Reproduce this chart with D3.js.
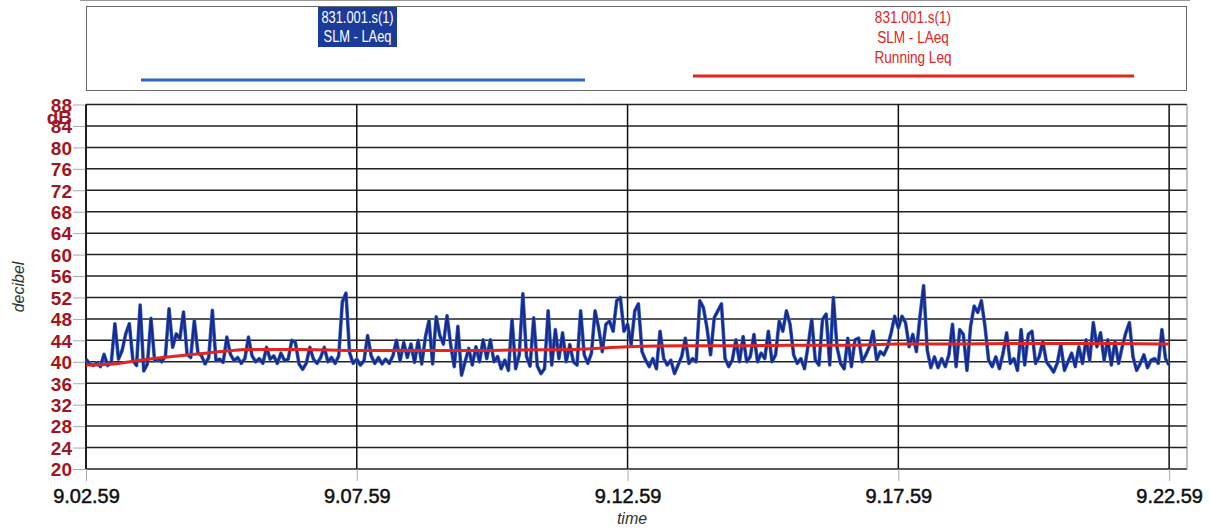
<!DOCTYPE html>
<html>
<head>
<meta charset="utf-8">
<title>SLM - LAeq</title>
<script src="https://cdnjs.cloudflare.com/ajax/libs/d3/7.8.5/d3.min.js"></script>
<style>
  body { margin: 0; background: #fff; }
  svg { display: block; }
  .narrow { font-family: "Liberation Sans Narrow", "Arial Narrow", "Liberation Sans", Arial, sans-serif; }
</style>
</head>
<body>
<div id="chart"></div>
<script>
// logger start 9.02.59, one LAeq sample every 4 s
const startLabel = "9.02.59";
const stepSec = 4;

// blue : SLM - LAeq (dB)
const laeq = [
  40.5, 39.6, 39.3, 39.8, 39.1, 41.4, 39.3, 39.8, 47.1, 40.5,
  42.1, 45.2, 47.1, 40.2, 39.3, 50.6, 38.3, 39.6, 48.1, 40.2,
  40.6, 40.0, 41.1, 49.9, 42.7, 45.2, 44.3, 49.3, 41.4, 40.8,
  47.7, 41.7, 41.1, 39.6, 40.8, 49.6, 40.2, 40.5, 39.9, 44.6,
  41.4, 40.2, 40.8, 39.7, 40.6, 44.6, 41.1, 40.0, 40.6, 39.7,
  42.7, 40.5, 41.1, 39.7, 41.6, 40.2, 40.5, 44.0, 43.6, 39.6,
  38.6, 39.7, 42.7, 40.5, 39.7, 40.8, 42.7, 40.0, 40.8, 39.7,
  41.1, 51.2, 52.8, 41.7, 39.7, 40.5, 39.4, 40.2, 44.9, 41.1,
  39.7, 40.8, 39.6, 40.5, 39.7, 41.1, 44.0, 40.2, 43.6, 40.8,
  43.3, 39.9, 44.0, 39.6, 44.6, 47.7, 39.6, 48.4, 44.9, 43.3,
  48.6, 43.2, 39.1, 46.6, 37.5, 40.0, 42.5, 39.4, 42.8, 40.0,
  44.1, 40.6, 44.1, 40.0, 41.0, 38.7, 40.3, 38.4, 47.9, 38.7,
  41.3, 52.7, 41.0, 39.2, 48.2, 39.2, 37.8, 38.7, 49.5, 39.4,
  46.0, 40.6, 45.4, 40.0, 43.2, 40.0, 39.4, 49.5, 41.3, 39.7,
  41.6, 49.5, 46.3, 41.9, 47.0, 47.6, 45.7, 51.4, 52.0, 45.7,
  47.0, 43.2, 49.5, 50.8, 41.9, 40.3, 39.1, 40.6, 38.7, 45.7,
  40.6, 39.4, 40.3, 37.8, 39.4, 41.0, 44.4, 39.7, 40.6, 40.0,
  51.4, 50.1, 46.3, 41.3, 48.2, 49.5, 50.8, 40.6, 39.1, 40.3,
  44.1, 40.0, 44.7, 40.0, 41.0, 45.1, 40.0, 41.6, 40.6, 45.7,
  40.0, 41.3, 47.6, 45.7, 49.5, 47.0, 41.3, 39.7, 40.6, 38.7,
  43.0, 47.9, 40.3, 39.4, 47.9, 48.9, 39.4, 52.0, 42.8, 39.7,
  38.7, 44.4, 39.1, 44.1, 44.4, 40.0, 41.3, 42.8, 45.7, 40.3,
  41.9, 41.3, 42.8, 45.4, 48.5, 46.3, 48.5, 47.3, 42.8, 45.1,
  41.9, 48.5, 54.2, 42.2, 38.9, 40.9, 38.9, 40.6, 39.1, 41.3,
  47.0, 39.1, 46.0, 45.1, 38.4, 46.6, 50.4, 49.2, 51.4, 46.6,
  40.3, 39.1, 40.9, 38.7, 41.6, 45.4, 39.7, 40.6, 38.4, 46.0,
  39.4, 45.1, 45.7, 39.7, 40.9, 43.8, 40.0, 39.1, 38.1, 39.7,
  43.2, 38.4, 40.0, 41.6, 39.1, 42.8, 39.7, 44.1, 40.3, 47.3,
  42.8, 45.4, 40.3, 44.1, 39.4, 43.8, 39.7, 42.8, 45.4, 47.3,
  40.9, 38.4, 39.7, 41.3, 38.9, 40.3, 40.6, 39.7, 46.0, 40.6,
  39.4
];

// red : Running Leq (dB) at elapsed minutes
const runMin = [0, 0.5, 1, 1.5, 2, 2.5, 3, 4, 5, 6, 7, 8, 9, 10, 11, 12, 13, 14, 15, 16, 17, 18, 19, 20];
const runLeq = [39.4, 39.6, 40.3, 40.9, 41.4, 41.9, 42.3, 42.3, 42.1, 42.1, 42.1, 42.2, 42.3, 42.8, 43.0, 43.0, 43.1, 43.1, 43.3, 43.3, 43.4, 43.4, 43.4, 43.3];

const xTicks = [0, 5, 10, 15, 20];
const xTickLabels = ["9.02.59", "9.07.59", "9.12.59", "9.17.59", "9.22.59"];
const yTicks = d3.range(20, 89, 4);

const width = 1210, height = 528;
const plotL = 86, plotR = 1187, plotT = 104.5, plotB = 469;

const svg = d3.select("#chart").append("svg")
  .attr("width", width)
  .attr("height", height);

const x = d3.scaleLinear().domain([0, 20.33]).range([plotL, plotR]);
const y = d3.scaleLinear().domain([20, 88]).range([plotB, plotT]);

// ---- legend box
svg.append("line")
  .attr("x1", 80).attr("x2", 1190).attr("y1", 0.5).attr("y2", 0.5)
  .attr("stroke", "#999").attr("stroke-width", 1);
svg.append("rect")
  .attr("x", 86.5).attr("y", 6.5).attr("width", 1100).attr("height", 84)
  .attr("fill", "none").attr("stroke", "#666").attr("stroke-width", 1);

// condensed text, like the narrow face of the original
const lgBlue = svg.append("g").attr("class", "narrow");
lgBlue.append("rect")
  .attr("x", 318).attr("y", 7).attr("width", 79).attr("height", 40)
  .attr("fill", "#1a3a9c");
lgBlue.selectAll("text")
  .data(["831.001.s(1)", "SLM - LAeq"])
  .enter().append("text")
  .attr("transform", (d, i) => `translate(357.5,${23 + i * 19}) scale(0.78,1)`)
  .attr("text-anchor", "middle")
  .attr("fill", "#fff")
  .style("font-size", "16.5px")
  .text(d => d);
lgBlue.append("line")
  .attr("x1", 141).attr("x2", 585).attr("y1", 80).attr("y2", 80)
  .attr("stroke", "#2a64c4").attr("stroke-width", 3);

const lgRed = svg.append("g").attr("class", "narrow");
lgRed.selectAll("text")
  .data(["831.001.s(1)", "SLM - LAeq", "Running Leq"])
  .enter().append("text")
  .attr("transform", (d, i) => `translate(913,${23 + i * 20}) scale(0.8,1)`)
  .attr("text-anchor", "middle")
  .attr("fill", "#e3241f")
  .style("font-size", "17px")
  .text(d => d);
lgRed.append("line")
  .attr("x1", 693).attr("x2", 1134).attr("y1", 76).attr("y2", 76)
  .attr("stroke", "#e3241f").attr("stroke-width", 3);

// ---- grid
const grid = svg.append("g");
grid.selectAll(".hg")
  .data(yTicks)
  .enter().append("line")
  .attr("x1", plotL).attr("x2", plotR)
  .attr("y1", d => y(d)).attr("y2", d => y(d))
  .attr("stroke", "#222").attr("stroke-width", 1.5);
grid.selectAll(".vg")
  .data(xTicks)
  .enter().append("line")
  .attr("x1", d => x(d)).attr("x2", d => x(d))
  .attr("y1", plotT).attr("y2", plotB)
  .attr("stroke", "#111").attr("stroke-width", 1.5);
grid.append("line")
  .attr("x1", plotR).attr("x2", plotR).attr("y1", plotT).attr("y2", plotB)
  .attr("stroke", "#888").attr("stroke-width", 1);

// ---- axes
const yAxis = svg.append("g")
  .attr("transform", `translate(${plotL},0)`)
  .call(d3.axisLeft(y).tickValues(yTicks).tickSize(13).tickPadding(1).tickFormat(d3.format("d")));
yAxis.select(".domain").remove();
yAxis.selectAll(".tick line").attr("stroke", "#aaa");
yAxis.selectAll(".tick text")
  .attr("fill", "#a3141c")
  .attr("dy", "0.36em")
  .style("font-family", "'Liberation Sans', Arial, sans-serif")
  .style("font-size", "19px")
  .style("font-weight", "bold");

// unit label sits on top of the 88/84 labels in the original
svg.append("text")
  .attr("x", 72).attr("y", 124)
  .attr("text-anchor", "end")
  .attr("fill", "#a3141c")
  .style("font-family", "'Liberation Sans', Arial, sans-serif")
  .style("font-size", "19px")
  .style("font-weight", "bold")
  .text("dB");

const xAxis = svg.append("g")
  .attr("transform", `translate(0,${plotB})`)
  .call(d3.axisBottom(x).tickValues(xTicks).tickSize(12).tickPadding(8)
    .tickFormat((d, i) => xTickLabels[i]));
xAxis.select(".domain").remove();
xAxis.selectAll(".tick line").attr("stroke", "#aaa");
xAxis.selectAll(".tick text")
  .attr("fill", "#111")
  .attr("stroke", "#111")
  .attr("stroke-width", 0.5)
  .style("font-family", "'Liberation Sans', Arial, sans-serif")
  .style("font-size", "20px");

svg.append("line")
  .attr("x1", plotL).attr("x2", plotL).attr("y1", plotT).attr("y2", plotB)
  .attr("stroke", "#111").attr("stroke-width", 1.5);

svg.append("text")
  .attr("x", 632).attr("y", 524)
  .attr("text-anchor", "middle")
  .attr("fill", "#333")
  .style("font-family", "'Liberation Sans', Arial, sans-serif")
  .style("font-size", "16px")
  .style("font-style", "italic")
  .text("time");

svg.append("text")
  .attr("transform", "translate(24,287) rotate(-90)")
  .attr("text-anchor", "middle")
  .attr("fill", "#333")
  .style("font-family", "'Liberation Sans', Arial, sans-serif")
  .style("font-size", "16px")
  .style("font-style", "italic")
  .text("decibel");

// ---- series
const blueLine = d3.line()
  .x((d, i) => x(i * stepSec / 60))
  .y(d => y(d));
// lighter halo under a dark core, as the printed trace looks
svg.append("path")
  .datum(laeq)
  .attr("fill", "none")
  .attr("stroke", "#3468c8")
  .attr("stroke-width", 3.6)
  .attr("stroke-linejoin", "round")
  .attr("d", blueLine);
svg.append("path")
  .datum(laeq)
  .attr("fill", "none")
  .attr("stroke", "#1a2a8c")
  .attr("stroke-width", 2.2)
  .attr("stroke-linejoin", "round")
  .attr("d", blueLine);

const redLine = d3.line()
  .x((d, i) => x(runMin[i]))
  .y(d => y(d))
  .curve(d3.curveMonotoneX);
svg.append("path")
  .datum(runLeq)
  .attr("fill", "none")
  .attr("stroke", "#e3241f")
  .attr("stroke-width", 3)
  .attr("d", redLine);
</script>
</body>
</html>
